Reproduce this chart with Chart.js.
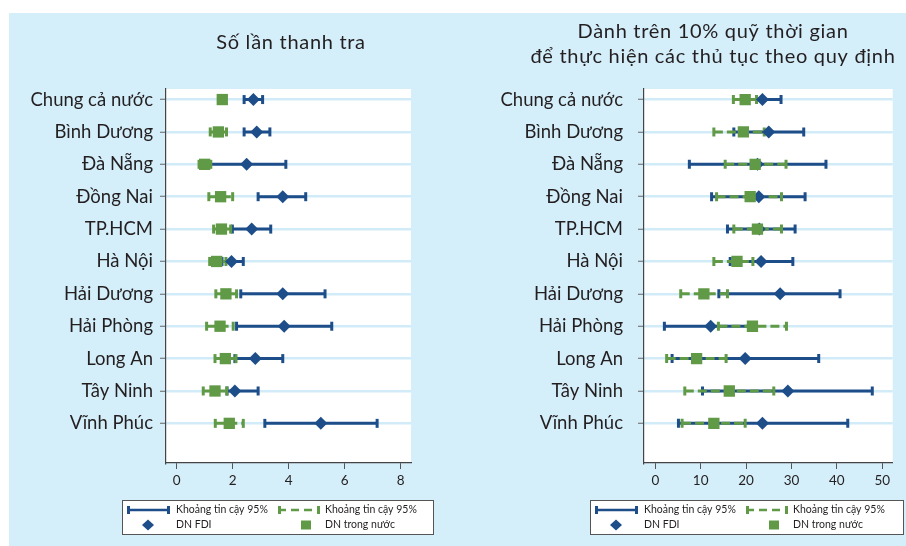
<!DOCTYPE html>
<html>
<head>
<meta charset="utf-8">
<script src="https://cdn.jsdelivr.net/npm/chart.js@4.4.1/dist/chart.umd.min.js"></script>
<style>
  html, body { margin: 0; padding: 0; background: #ffffff; }
  #wrap { position: relative; width: 906px; height: 546px; overflow: hidden; }
  #bg { position: absolute; left: 9px; top: 13px; width: 897px; height: 533px; background: #d4eefa; }
  .panel { position: absolute; top: 0; width: 453px; height: 546px; }
</style>
</head>
<body>
<div id="wrap">
  <div id="bg"></div>
  <div class="panel" style="left:0px"><canvas id="c1" width="453" height="546"></canvas></div>
  <div class="panel" style="left:453px"><canvas id="c2" width="453" height="546"></canvas></div>
</div>
<script>
// Provinces, top to bottom
const categories = ['Chung cả nước', 'Bình Dương', 'Đà Nẵng', 'Đồng Nai', 'TP.HCM', 'Hà Nội',
                    'Hải Dương', 'Hải Phòng', 'Long An', 'Tây Ninh', 'Vĩnh Phúc'];

// Panel 1: number of inspections
const inspFdiMean = [2.74, 2.86, 2.50, 3.79, 2.68, 1.96, 3.79, 3.84, 2.81, 2.08, 5.15];
const inspFdiLow  = [2.41, 2.41, 1.10, 2.91, 1.99, 1.62, 2.29, 2.14, 2.08, 1.80, 3.15];
const inspFdiHigh = [3.07, 3.33, 3.90, 4.61, 3.36, 2.38, 5.30, 5.54, 3.79, 2.91, 7.16];
const inspDomMean = [1.63, 1.49, 1.00, 1.57, 1.60, 1.43, 1.76, 1.55, 1.74, 1.37, 1.88];
const inspDomLow  = [1.56, 1.20, 0.80, 1.15, 1.32, 1.18, 1.40, 1.07, 1.37, 0.95, 1.38];
const inspDomHigh = [1.70, 1.78, 1.22, 2.00, 1.93, 1.76, 2.14, 2.02, 2.12, 1.79, 2.38];
const inspTicks = [0, 2, 4, 6, 8];

// Panel 2: share of firms spending over 10% of time on regulations
const timeFdiMean = [23.6, 25.0, 22.5, 22.8, 22.9, 23.3, 27.5, 12.2, 19.8, 29.2, 23.6];
const timeFdiLow  = [20.0, 17.3, 7.5, 12.4, 15.9, 16.5, 14.0, 2.0, 3.7, 10.4, 5.1];
const timeFdiHigh = [27.7, 32.7, 37.6, 33.0, 30.8, 30.3, 40.7, 21.0, 36.0, 47.8, 42.4];
const timeDomMean = [19.8, 19.4, 22.0, 20.9, 22.5, 18.0, 10.7, 21.4, 9.1, 16.3, 12.9];
const timeDomLow  = [17.2, 12.9, 15.4, 13.5, 17.3, 12.9, 5.6, 13.9, 2.5, 6.5, 5.9];
const timeDomHigh = [22.3, 24.0, 28.8, 27.8, 27.8, 21.5, 15.9, 28.9, 15.6, 26.1, 19.8];
const timeTicks = [0, 10, 20, 30, 40, 50];

const BLUE = '#1d4e89';
const GREEN = '#609a46';
const TEXT = '#231f20';
const FONT = 'Lato, "Open Sans", sans-serif';

// interval segments separated by gaps: low -> high on each row
function intervalPoints(lo, hi) {
  const pts = [];
  categories.forEach((_, i) => {
    pts.push({ x: lo[i], y: i }, { x: hi[i], y: i }, { x: null, y: null });
  });
  return pts;
}
function markerPoints(vals) {
  return categories.map((_, i) => ({ x: vals[i], y: i }));
}

// white plotting area
const plotBackground = {
  id: 'plotBackground',
  beforeDraw(chart) {
    const { ctx, chartArea: a } = chart;
    ctx.save();
    ctx.fillStyle = '#ffffff';
    ctx.fillRect(a.left, a.top, a.right - a.left, a.bottom - a.top);
    ctx.restore();
  }
};

// panel heading (one or two lines)
const panelTitle = {
  id: 'panelTitle',
  afterDraw(chart, args, o) {
    const ctx = chart.ctx;
    ctx.save();
    ctx.fillStyle = TEXT;
    ctx.font = o.size + 'px ' + FONT;
    ctx.letterSpacing = o.spacing;
    ctx.textAlign = 'center';
    ctx.textBaseline = 'middle';
    o.lines.forEach((t, k) => ctx.fillText(t, o.x, o.y + k * o.dy));
    ctx.restore();
  }
};

// boxed key showing the interval and marker styles
const intervalKey = {
  id: 'intervalKey',
  afterDraw(chart, args, o) {
    const ctx = chart.ctx;
    const L = o.left, T = o.top, W = o.width, H = o.height;
    const r1 = T + 10, r2 = T + 25;
    ctx.save();
    ctx.letterSpacing = '0px';
    ctx.fillStyle = '#ffffff';
    ctx.fillRect(L, T, W, H);
    ctx.strokeStyle = '#555';
    ctx.lineWidth = 1;
    ctx.strokeRect(L + 0.5, T + 0.5, W, H);

    const bar = (x0, x1, y, color, dash) => {
      ctx.strokeStyle = color;
      ctx.lineWidth = 2.5;
      ctx.setLineDash(dash);
      ctx.beginPath(); ctx.moveTo(x0, y); ctx.lineTo(x1, y); ctx.stroke();
      ctx.setLineDash([]);
      ctx.lineWidth = 3;
      ctx.beginPath();
      ctx.moveTo(x0 + 1.5, y - 4); ctx.lineTo(x0 + 1.5, y + 4);
      ctx.moveTo(x1 - 1.5, y - 4); ctx.lineTo(x1 - 1.5, y + 4);
      ctx.stroke();
    };
    bar(L + 5, L + 48, r1, BLUE, []);
    bar(L + 156, L + 198, r1, GREEN, [8, 5]);

    ctx.fillStyle = BLUE;
    ctx.beginPath();
    ctx.moveTo(L + 26 - 6, r2); ctx.lineTo(L + 26, r2 - 5.5);
    ctx.lineTo(L + 26 + 6, r2); ctx.lineTo(L + 26, r2 + 5.5);
    ctx.closePath(); ctx.fill();
    ctx.fillStyle = GREEN;
    ctx.fillRect(L + 179, r2 - 4.5, 10, 9);

    ctx.fillStyle = TEXT;
    ctx.font = '10.5px ' + FONT;
    ctx.textBaseline = 'middle';
    ctx.textAlign = 'left';
    ctx.fillText('Khoảng tin cậy 95%', L + 54, r1);
    ctx.fillText('Khoảng tin cậy 95%', L + 203, r1);
    ctx.fillText('DN FDI', L + 54, r2);
    ctx.fillText('DN trong nước', L + 203, r2);
    ctx.restore();
  }
};

function buildPanel(canvasId, cfg) {
  return new Chart(document.getElementById(canvasId), {
    type: 'scatter',
    data: {
      datasets: [
        {
          label: 'DN trong nước',
          data: markerPoints(cfg.domMean),
          pointStyle: 'rect', pointRadius: 8, pointHoverRadius: 8,
          backgroundColor: GREEN, borderColor: GREEN, pointBorderWidth: 0,
          order: 0
        },
        {
          label: 'DN FDI',
          data: markerPoints(cfg.fdiMean),
          pointStyle: 'rectRot', pointRadius: 6.5, pointHoverRadius: 6.5,
          backgroundColor: BLUE, borderColor: BLUE, pointBorderWidth: 0,
          order: 1
        },
        {
          type: 'line',
          label: 'Khoảng tin cậy 95% (DN trong nước)',
          data: intervalPoints(cfg.domLow, cfg.domHigh),
          borderColor: GREEN, borderWidth: 3, borderDash: [9, 4], borderCapStyle: 'butt',
          pointStyle: 'line', pointRotation: 90, pointRadius: 4.5, pointHoverRadius: 4.5,
          pointBorderWidth: 3, pointBorderColor: GREEN, pointBackgroundColor: GREEN,
          fill: false, tension: 0, spanGaps: false,
          order: 2
        },
        {
          type: 'line',
          label: 'Khoảng tin cậy 95% (DN FDI)',
          data: intervalPoints(cfg.fdiLow, cfg.fdiHigh),
          borderColor: BLUE, borderWidth: 3, borderCapStyle: 'butt',
          pointStyle: 'line', pointRotation: 90, pointRadius: 4.5, pointHoverRadius: 4.5,
          pointBorderWidth: 3, pointBorderColor: BLUE, pointBackgroundColor: BLUE,
          fill: false, tension: 0, spanGaps: false,
          order: 3
        }
      ]
    },
    options: {
      responsive: false,
      animation: false,
      devicePixelRatio: 1,
      events: [],
      layout: { padding: { left: 0, top: 89, right: cfg.padRight, bottom: 53 } },
      plugins: {
        legend: { display: false },
        tooltip: { enabled: false },
        panelTitle: cfg.title,
        intervalKey: cfg.key
      },
      scales: {
        x: {
          type: 'linear',
          min: cfg.xMin, max: cfg.xMax,
          afterBuildTicks: (axis) => { axis.ticks = cfg.ticks.map(v => ({ value: v })); },
          afterFit: (axis) => { axis.height = 30; },
          grid: { drawOnChartArea: false, drawTicks: true, tickLength: 6, color: '#555', tickColor: '#555', tickWidth: 1 },
          border: { display: true, color: '#444', width: 1.2 },
          ticks: { padding: 4, color: TEXT, font: { family: FONT, size: 13.5 }, maxRotation: 0, autoSkip: false,
                   callback: (v) => String(v) }
        },
        y: {
          type: 'linear',
          reverse: true,
          min: -0.326, max: 11.224,
          afterBuildTicks: (axis) => { axis.ticks = categories.map((_, i) => ({ value: i })); },
          afterFit: (axis) => { axis.width = cfg.yWidth; },
          grid: { color: '#d2ebf8', lineWidth: 2.5, drawTicks: true, tickLength: 6, tickColor: '#666', tickWidth: 1 },
          border: { display: true, color: '#444', width: 1.2 },
          ticks: { padding: cfg.labelPad, color: TEXT, font: { family: FONT, size: 18.5 }, autoSkip: false,
                   callback: (v) => categories[v] }
        }
      }
    },
    plugins: [plotBackground, panelTitle, intervalKey]
  });
}

buildPanel('c1', {
  fdiMean: inspFdiMean, fdiLow: inspFdiLow, fdiHigh: inspFdiHigh,
  domMean: inspDomMean, domLow: inspDomLow, domHigh: inspDomHigh,
  ticks: inspTicks, xMin: -0.38, xMax: 8.37,
  yWidth: 166, padRight: 42, labelPad: 7,
  title: { lines: ['Số lần thanh tra'], x: 291, y: 43, dy: 25, size: 20, spacing: '0.7px' },
  key: { left: 122, top: 500, width: 311, height: 34 }
});

buildPanel('c2', {
  fdiMean: timeFdiMean, fdiLow: timeFdiLow, fdiHigh: timeFdiHigh,
  domMean: timeDomMean, domLow: timeDomLow, domHigh: timeDomHigh,
  ticks: timeTicks, xMin: -2.49, xMax: 52.3,
  yWidth: 191, padRight: 13.3, labelPad: 15,
  title: { lines: ['Dành trên 10% quỹ thời gian', 'để thực hiện các thủ tục theo quy định'], x: 260, y: 32, dy: 25, size: 20, spacing: '0.7px' },
  key: { left: 137, top: 500, width: 313, height: 34 }
});
</script>
</body>
</html>
